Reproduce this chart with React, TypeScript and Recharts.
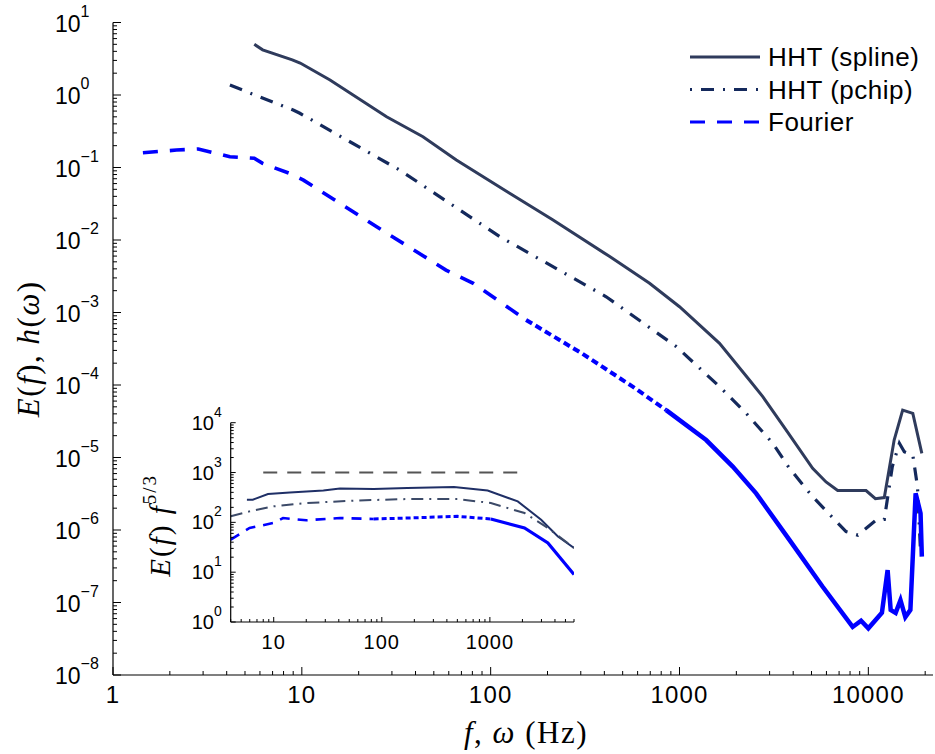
import React from 'react';
import { LineChart, Line, XAxis, YAxis, Legend } from 'recharts';

// main spectra
const splineFreq = [5.6, 6.2, 8.9, 9.8, 14.1, 28.1, 43.8, 65.8, 126, 214, 427, 694, 1000, 1629, 2345, 2760, 3665, 5070, 5970, 6880, 9720, 10900, 12150, 13700, 15200, 17200, 19200];
const splineE = [5.0, 4.2, 3.06, 2.76, 1.61, 0.5, 0.266, 0.127, 0.044, 0.0189, 0.0059, 0.00253, 0.0012, 3.76e-4, 1.17e-4, 6.9e-5, 2.4e-5, 7.1e-6, 4.6e-6, 3.5e-6, 3.5e-6, 2.7e-6, 2.8e-6, 1.74e-5, 4.5e-5, 4.07e-5, 1.14e-5];

const pchipFreq = [4.16, 9.0, 9.76, 33, 112, 409, 960, 1629, 2254, 3120, 3820, 5070, 7620, 8800, 11000, 12150, 13400, 14600, 15500, 17200, 18200, 18900];
const pchipE = [1.37, 0.62, 0.56, 0.092, 0.0111, 0.00165, 3.4e-4, 9.5e-5, 4.07e-5, 1.57e-5, 7.1e-6, 2.88e-6, 9.5e-7, 8.5e-7, 1.37e-6, 1.4e-6, 7.5e-6, 1.57e-5, 1.2e-5, 1.08e-5, 4.0e-6, 5e-7];

const fourierFreq = [1.44, 2.17, 2.83, 4.16, 5.6, 6.2, 8.6, 10.2, 24.9, 58, 80.9, 154, 306, 565, 850, 1384, 1914, 2545, 3820, 5730, 8260, 9150, 10000, 11800, 12650, 13130, 13950, 14800, 15700, 16700, 17800, 18900, 19200];
const fourierE = [0.16, 0.174, 0.18, 0.141, 0.134, 0.114, 0.083, 0.067, 0.0152, 0.00385, 0.00253, 7.9e-4, 2.7e-4, 9.5e-5, 4.5e-5, 1.74e-5, 7.5e-6, 3.2e-6, 7.3e-7, 1.65e-7, 4.6e-8, 5.6e-8, 4.4e-8, 7.2e-8, 2.8e-7, 7.9e-8, 7.2e-8, 1.08e-7, 6.3e-8, 7.9e-8, 3.2e-6, 1.7e-6, 4.3e-7];

// inset: compensated spectra E(f) f^{5/3}
const insetSplineFreq = [5.65, 6.4, 8.85, 14.1, 28.8, 41, 84, 172, 465, 953, 1810, 2980, 4260, 6000];
const insetSplineV = [284, 284, 370, 398, 437, 479, 467, 490, 510, 437, 263, 113, 52, 30.7];
const insetPchipFreq = [4, 5.98, 9.9, 20, 58.9, 172, 503, 1020, 2090, 3440, 6000];
const insetPchipV = [132, 166, 209, 244, 275, 294, 294, 244, 154, 77, 30.7];
const insetFourierFreq = [4, 5.98, 9.9, 12.2, 20, 41, 84, 172, 503, 1020, 2090, 3440, 6000];
const insetFourierV = [45, 77, 97, 122, 110, 122, 117, 122, 132, 117, 77, 38.7, 9.0];
const insetRefFreq = [8, 2000];
const insetRefV = [1000, 1000];

const legendOrder = ['HHT (spline)', 'HHT (pchip)', 'Fourier'];

const SANS = '"Liberation Sans", Arial, Helvetica, sans-serif';
const SERIF = '"Liberation Serif", "Times New Roman", serif';

const zip = (fs: number[], vs: number[]) => fs.map((f, i) => ({ f, v: vs[i] }));

const logTicks = (lo: number, hi: number) => {
  const out: number[] = [];
  for (let d = Math.floor(Math.log10(lo)); d <= Math.ceil(Math.log10(hi)); d++) {
    for (let m = 1; m <= 9; m++) {
      const t = m * Math.pow(10, d);
      if (t >= lo * 0.999 && t <= hi * 1.001) out.push(t);
    }
  }
  return out;
};
const isMajor = (v: number) => Math.abs(Math.log10(v) - Math.round(Math.log10(v))) < 1e-6;
const expOf = (v: number) => {
  const e = Math.round(Math.log10(v));
  return e < 0 ? '\u2212' + Math.abs(e) : String(e);
};

const spline = zip(splineFreq, splineE);
const pchip = zip(pchipFreq, pchipE);
const fourier = zip(fourierFreq, fourierE);
const fourierA = fourier.slice(0, 12);
const fourierB = fourier.slice(11, 15);
const fourierC = fourier.slice(14);

const inSpline = zip(insetSplineFreq, insetSplineV);
const inPchip = zip(insetPchipFreq, insetPchipV);
const inFourier = zip(insetFourierFreq, insetFourierV);
const inFourierA = inFourier.slice(0, 7);
const inFourierB = inFourier.slice(6, 10);
const inFourierC = inFourier.slice(9);
const inRef = zip(insetRefFreq, insetRefV);

const SPLINE = '#2f3b5c';
const PCHIP = '#14295c';
const FOURIER = '#0000ff';

// tick renderers: MATLAB style, ticks pointing into the box
const bottomTick = (big: number, small: number, fs: number, dy: number, ls: number) => (p: any) => {
  const v = p.payload.value;
  const major = isMajor(v);
  return (
    <g>
      <line x1={p.x} x2={p.x} y1={p.y} y2={p.y - (major ? big : small)} stroke="#000" strokeWidth={1} />
      {major && (
        <text x={p.x} y={p.y + dy} textAnchor="middle" fontSize={fs} fontFamily={SANS} letterSpacing={ls} fill="#000">
          {String(Math.round(v))}
        </text>
      )}
    </g>
  );
};
const topTick = (big: number, small: number) => (p: any) => (
  <line x1={p.x} x2={p.x} y1={p.y} y2={p.y + (isMajor(p.payload.value) ? big : small)} stroke="#000" strokeWidth={1} />
);
const leftTick = (big: number, small: number, fs: number, dx: number, dy: number, supFs: number, supDy: number) => (p: any) => {
  const v = p.payload.value;
  const major = isMajor(v);
  return (
    <g>
      <line x1={p.x} x2={p.x + (major ? big : small)} y1={p.y} y2={p.y} stroke="#000" strokeWidth={1} />
      {major && (
        <text x={p.x + dx} y={p.y + dy} textAnchor="start" fontSize={fs} fontFamily={SANS} fill="#000">
          10
          <tspan dy={supDy} fontSize={supFs}>{expOf(v)}</tspan>
        </text>
      )}
    </g>
  );
};
const rightTick = (big: number, small: number) => (p: any) => (
  <line x1={p.x} x2={p.x - (isMajor(p.payload.value) ? big : small)} y1={p.y} y2={p.y} stroke="#000" strokeWidth={1} />
);

const mainXLabel = (props: any) => {
  const vb = props.viewBox;
  return (
    <text x={vb.x + vb.width / 2 + 3} y={vb.y + 68} textAnchor="middle" fontSize={31} fontFamily={SERIF} letterSpacing={1.5} fill="#000">
      <tspan fontStyle="italic">f</tspan>
      <tspan>, </tspan>
      <tspan fontStyle="italic">ω</tspan>
      <tspan> (Hz)</tspan>
    </text>
  );
};
const mainYLabel = (props: any) => {
  const vb = props.viewBox;
  const cx = vb.x + 28;
  const cy = vb.y + vb.height / 2;
  return (
    <text x={cx} y={cy} transform={`rotate(-90 ${cx} ${cy})`} textAnchor="middle" dominantBaseline="central" fontSize={31} fontFamily={SERIF} letterSpacing={1.5} fill="#000">
      <tspan fontStyle="italic">E</tspan>(<tspan fontStyle="italic">f</tspan>), <tspan fontStyle="italic">h</tspan>(<tspan fontStyle="italic">ω</tspan>)
    </text>
  );
};
const insetYLabel = (props: any) => {
  const vb = props.viewBox;
  const cx = vb.x + 20;
  const cy = vb.y + vb.height / 2 + 3;
  return (
    <text x={cx} y={cy} transform={`rotate(-90 ${cx} ${cy})`} textAnchor="middle" dominantBaseline="central" fontSize={29} fontFamily={SERIF} letterSpacing={2} fill="#000">
      <tspan fontStyle="italic">E</tspan>(<tspan fontStyle="italic">f</tspan>) <tspan fontStyle="italic">f</tspan>
      <tspan dy={-11} fontSize={19}>5/3</tspan>
    </text>
  );
};

const legendDash: Record<string, string | undefined> = {
  'HHT (spline)': undefined,
  'HHT (pchip)': '2 9 13 9',
  Fourier: '15 12',
};
const LegendBox = (props: any) => {
  const items = (props.payload || [])
    .filter((p: any) => legendOrder.includes(p.value))
    .sort((a: any, b: any) => legendOrder.indexOf(a.value) - legendOrder.indexOf(b.value));
  return (
    <svg width={245} height={110} style={{ display: 'block' }}>
      {items.map((p: any, i: number) => (
        <g key={p.value} transform={`translate(0, ${16 + i * 32.5})`}>
          <line x1={2} x2={72} y1={0} y2={0} stroke={p.color} strokeWidth={3} strokeDasharray={legendDash[p.value]} />
          <text x={80} y={9} fontSize={26} letterSpacing={0.5} fontFamily={SANS} fill="#000">{p.value}</text>
        </g>
      ))}
    </svg>
  );
};

const mainXTicks = logTicks(1, 22000);
const mainYTicks = logTicks(1e-8, 10);
const inXTicks = logTicks(4, 6000);
const inYTicks = logTicks(1, 10000);
const axisLine = { stroke: '#000', strokeWidth: 1.2 };

export default function App() {
  return (
    <div style={{ position: 'absolute', left: 0, top: 0, width: 935, height: 754, background: '#fff' }}>
      <LineChart width={935} height={754} margin={{ top: 22.5, right: 2, bottom: 0, left: 0 }}>
        <XAxis dataKey="f" type="number" scale="log" domain={[1, 22000]} allowDataOverflow ticks={mainXTicks} interval={0}
          height={79} tickSize={0} tickMargin={0} tickLine={false} axisLine={axisLine}
          tick={bottomTick(8, 4, 24, 28, 1.2)} label={mainXLabel} />
        <XAxis xAxisId="top" orientation="top" type="number" scale="log" domain={[1, 22000]} allowDataOverflow ticks={mainXTicks} interval={0}
          height={0} tickSize={0} tickMargin={0} tickLine={false} axisLine={axisLine} tick={topTick(8, 4)} />
        <YAxis dataKey="v" type="number" scale="log" domain={[1e-8, 10]} allowDataOverflow ticks={mainYTicks} interval={0}
          width={113} tickSize={0} tickMargin={0} tickLine={false} axisLine={axisLine}
          tick={leftTick(8, 4, 23, -58, 9, 16, -15)} label={mainYLabel} />
        <YAxis yAxisId="right" orientation="right" type="number" scale="log" domain={[1e-8, 10]} allowDataOverflow ticks={mainYTicks} interval={0}
          width={0} tickSize={0} tickMargin={0} tickLine={false} axisLine={axisLine} tick={rightTick(8, 4)} />
        <Line data={spline} dataKey="v" name="HHT (spline)" stroke={SPLINE} strokeWidth={3} dot={false} isAnimationActive={false} />
        <Line data={pchip} dataKey="v" name="HHT (pchip)" stroke={PCHIP} strokeWidth={3.2} strokeDasharray="13 9 2 9" dot={false} isAnimationActive={false} />
        <Line data={fourierA} dataKey="v" name="Fourier" stroke={FOURIER} strokeWidth={3.6} strokeDasharray="15 12" dot={false} isAnimationActive={false} />
        <Line data={fourierB} dataKey="v" name="Fourier B" legendType="none" stroke={FOURIER} strokeWidth={4} strokeDasharray="7 4" dot={false} isAnimationActive={false} />
        <Line data={fourierC} dataKey="v" name="Fourier C" legendType="none" stroke={FOURIER} strokeWidth={4.5} dot={false} isAnimationActive={false} />
        <Legend layout="horizontal" verticalAlign="middle" align="center" content={LegendBox}
          wrapperStyle={{ position: 'absolute', left: 688, top: 41, width: 245, height: 110 }} />
      </LineChart>

      <div style={{ position: 'absolute', left: 140, top: 398 }}>
        <LineChart width={440} height={262} margin={{ top: 24.7, right: 6, bottom: 0, left: 0 }}>
          <XAxis dataKey="f" type="number" scale="log" domain={[4, 6000]} allowDataOverflow ticks={inXTicks} interval={0}
            height={38} tickSize={0} tickMargin={0} tickLine={false} axisLine={axisLine} tick={bottomTick(5, 3, 20, 27, 1)} />
          <XAxis xAxisId="top" orientation="top" type="number" scale="log" domain={[4, 6000]} allowDataOverflow ticks={inXTicks} interval={0}
            height={0} tickSize={0} tickMargin={0} tickLine={false} axisLine={axisLine} tick={topTick(5, 3)} />
          <YAxis dataKey="v" type="number" scale="log" domain={[1, 10000]} allowDataOverflow ticks={inYTicks} interval={0}
            width={90.7} tickSize={0} tickMargin={0} tickLine={false} axisLine={axisLine}
            tick={leftTick(5, 3, 20, -39, 7, 14, -13)} label={insetYLabel} />
          <YAxis yAxisId="right" orientation="right" type="number" scale="log" domain={[1, 10000]} allowDataOverflow ticks={inYTicks} interval={0}
            width={0} tickSize={0} tickMargin={0} tickLine={false} axisLine={axisLine} tick={rightTick(5, 3)} />
          <Line data={inRef} dataKey="v" stroke="#555555" strokeWidth={2} strokeDasharray="14 10" dot={false} isAnimationActive={false} />
          <Line data={inSpline} dataKey="v" stroke="#1f2f66" strokeWidth={2} dot={false} isAnimationActive={false} />
          <Line data={inPchip} dataKey="v" stroke="#3c4a68" strokeWidth={2} strokeDasharray="12 6 2 6" dot={false} isAnimationActive={false} />
          <Line data={inFourierA} dataKey="v" stroke={FOURIER} strokeWidth={2.6} strokeDasharray="10 8" dot={false} isAnimationActive={false} />
          <Line data={inFourierB} dataKey="v" stroke={FOURIER} strokeWidth={3} strokeDasharray="5 3" dot={false} isAnimationActive={false} />
          <Line data={inFourierC} dataKey="v" stroke={FOURIER} strokeWidth={3.2} dot={false} isAnimationActive={false} />
        </LineChart>
      </div>
    </div>
  );
}
